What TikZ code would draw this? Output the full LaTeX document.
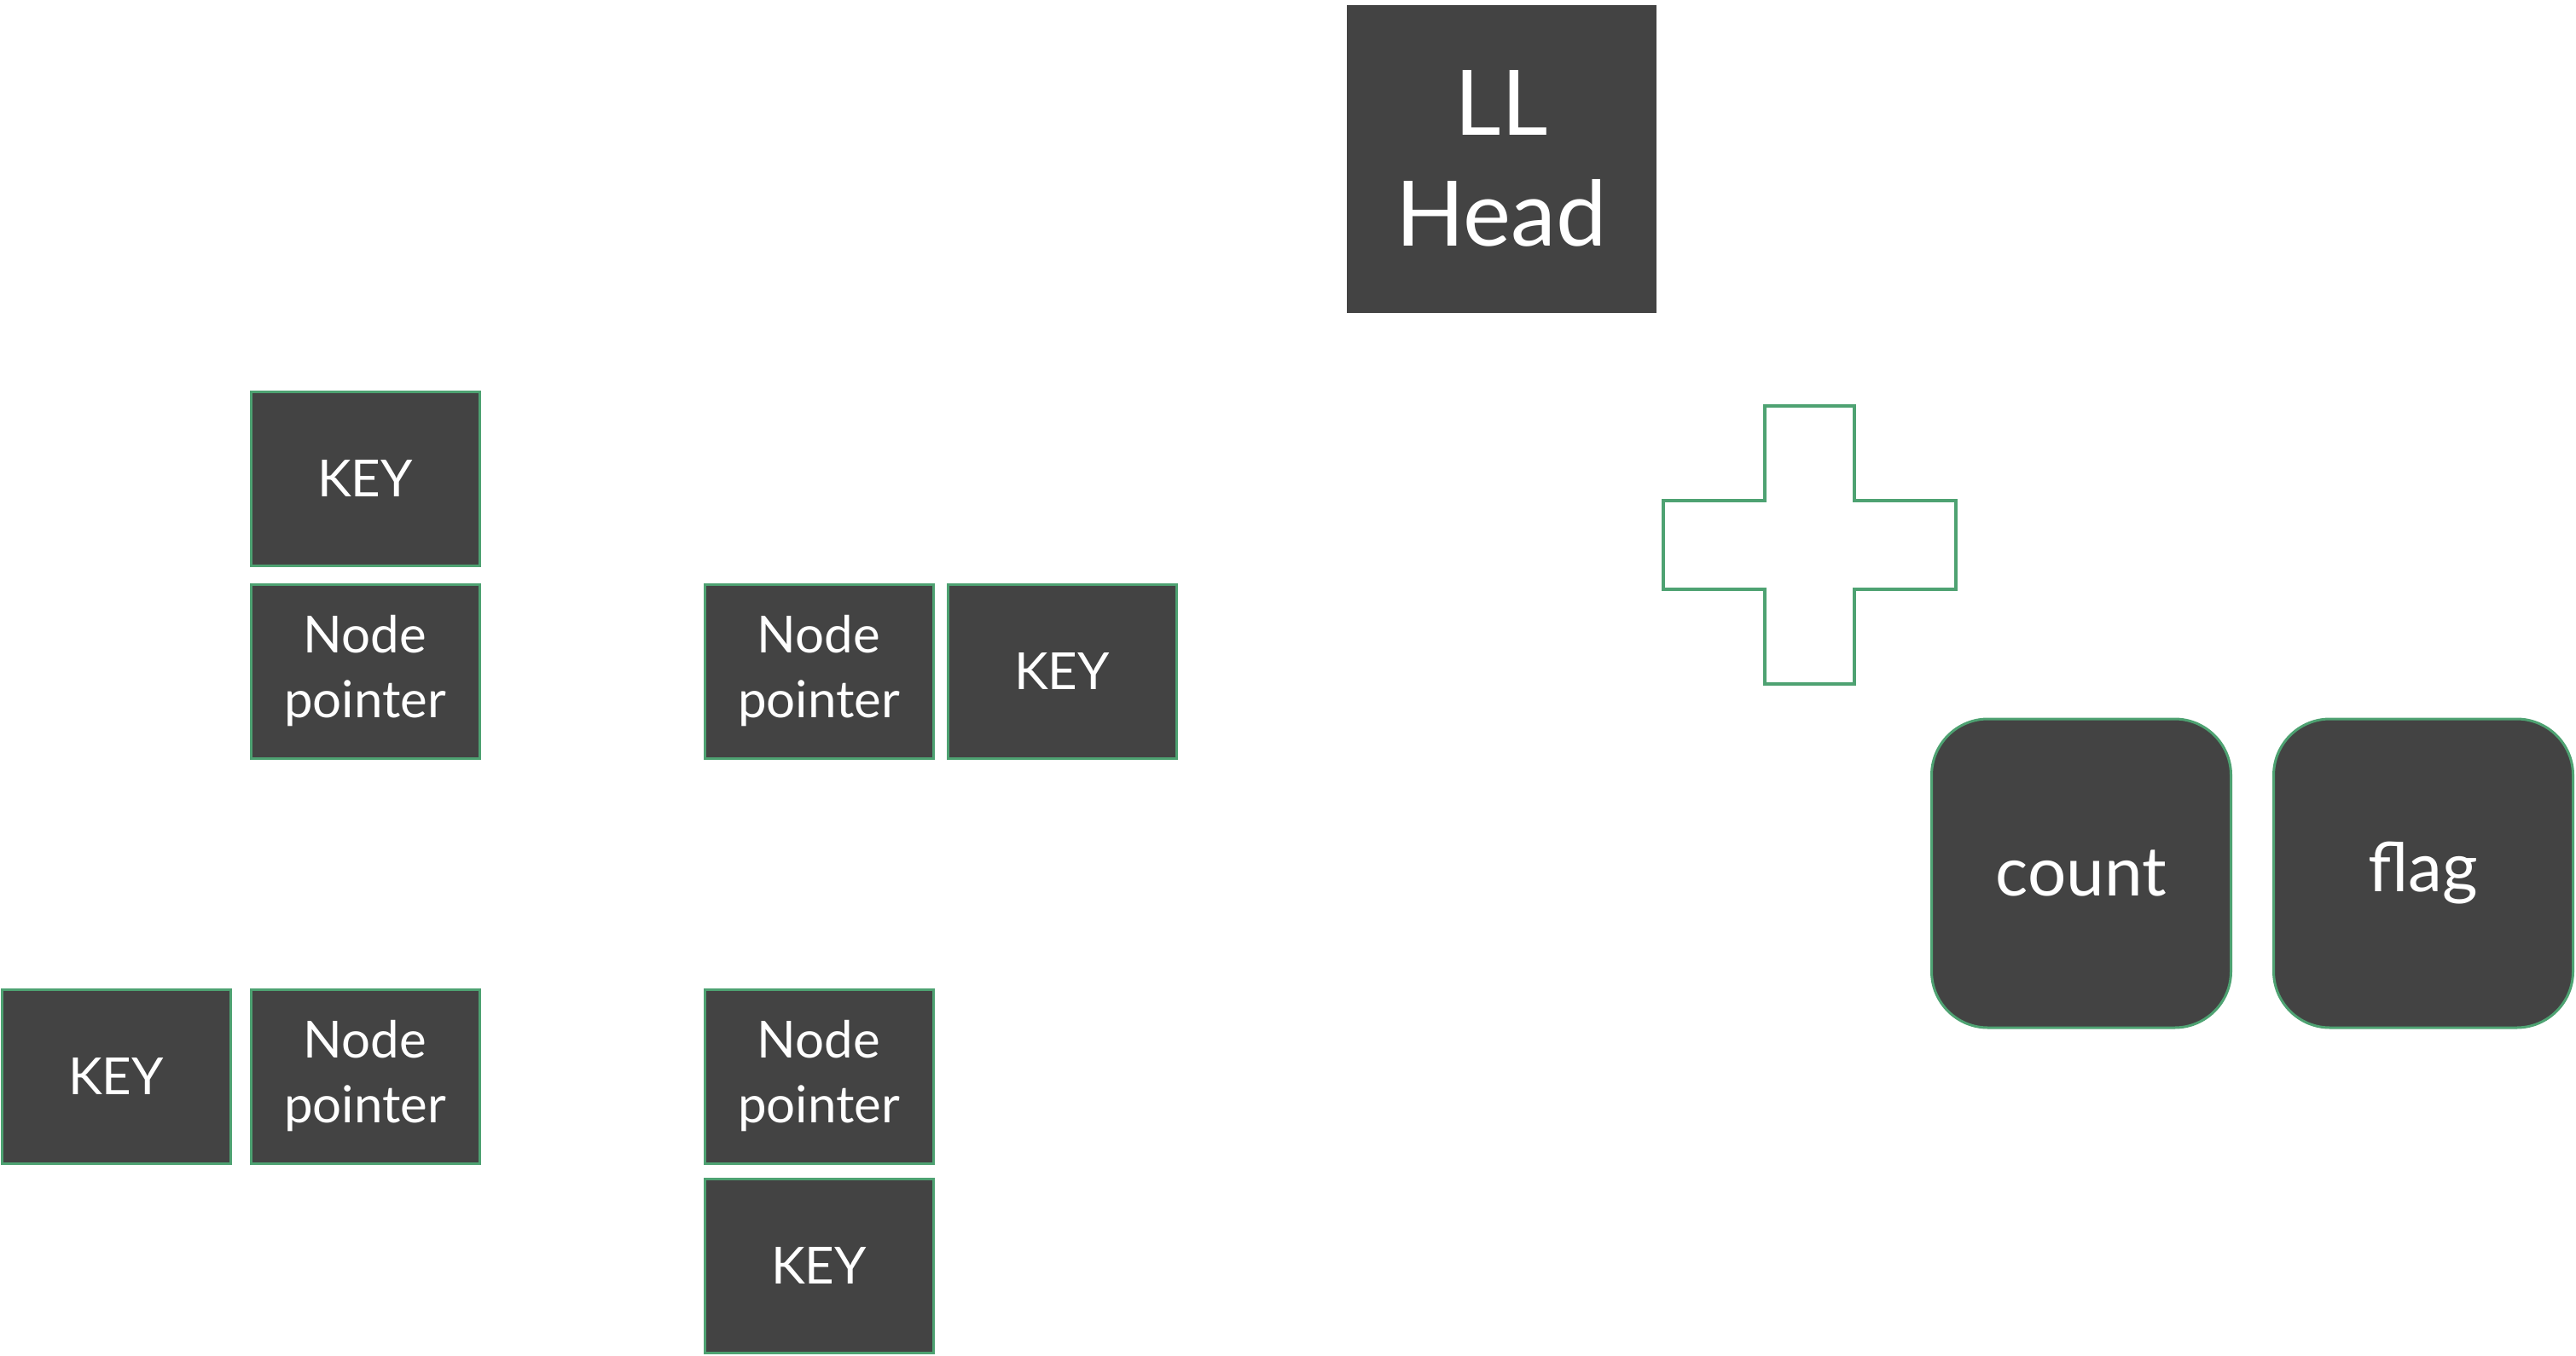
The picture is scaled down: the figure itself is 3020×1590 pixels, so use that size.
\documentclass[tikz,border=0pt]{standalone}
\usepackage{fontspec}
\setmainfont{Lato}
\definecolor{boxgray}{RGB}{67,67,67}
\definecolor{boxgreen}{RGB}{78,162,114}
\tikzset{
  cell/.style={rectangle, fill=boxgray, draw=boxgreen, line width=3pt, inner sep=0pt,
    minimum width=268pt, minimum height=204pt, text=white, align=center,
    font=\fontsize{60}{76}\selectfont},
  headbox/.style={rectangle, fill=boxgray, draw=boxgray, line width=1pt, inner sep=0pt,
    minimum width=362pt, minimum height=360pt, text=white, align=center,
    font=\fontsize{106}{130}\selectfont},
  roundbox/.style={rectangle, rounded corners=66pt, fill=boxgray, draw=boxgreen, line width=3pt,
    inner sep=0pt, minimum width=351pt, minimum height=362pt, text=white, align=center,
    font=\fontsize{80}{96}\selectfont},
  crossline/.style={draw=boxgreen, line width=4pt}
}
\begin{document}
\begin{tikzpicture}[x=1pt, y=-1pt]
\useasboundingbox (0,0) rectangle (3020,1590);
\node[headbox] (head) at (1760,186) {LL\\Head};
\node[cell] (key1) at (428,561) {KEY};
\node[cell] (np1) at (428,787) {Node\\pointer};
\node[cell] (np2) at (960,787) {Node\\pointer};
\node[cell] (key2) at (1245,787) {KEY};
\node[cell] (key3) at (136,1262) {KEY};
\node[cell] (np3) at (428,1262) {Node\\pointer};
\node[cell] (np4) at (960,1262) {Node\\pointer};
\node[cell] (key4) at (960,1484) {KEY};
\node[roundbox] (count) at (2440,1024) {count};
\node[roundbox] (flag) at (2841,1024) {flag};
\draw[crossline] (2069,476) -- (2174,476) -- (2174,587) -- (2293,587) -- (2293,691)
  -- (2174,691) -- (2174,802) -- (2069,802) -- (2069,691) -- (1950,691) -- (1950,587)
  -- (2069,587) -- cycle;
\end{tikzpicture}
\end{document}
